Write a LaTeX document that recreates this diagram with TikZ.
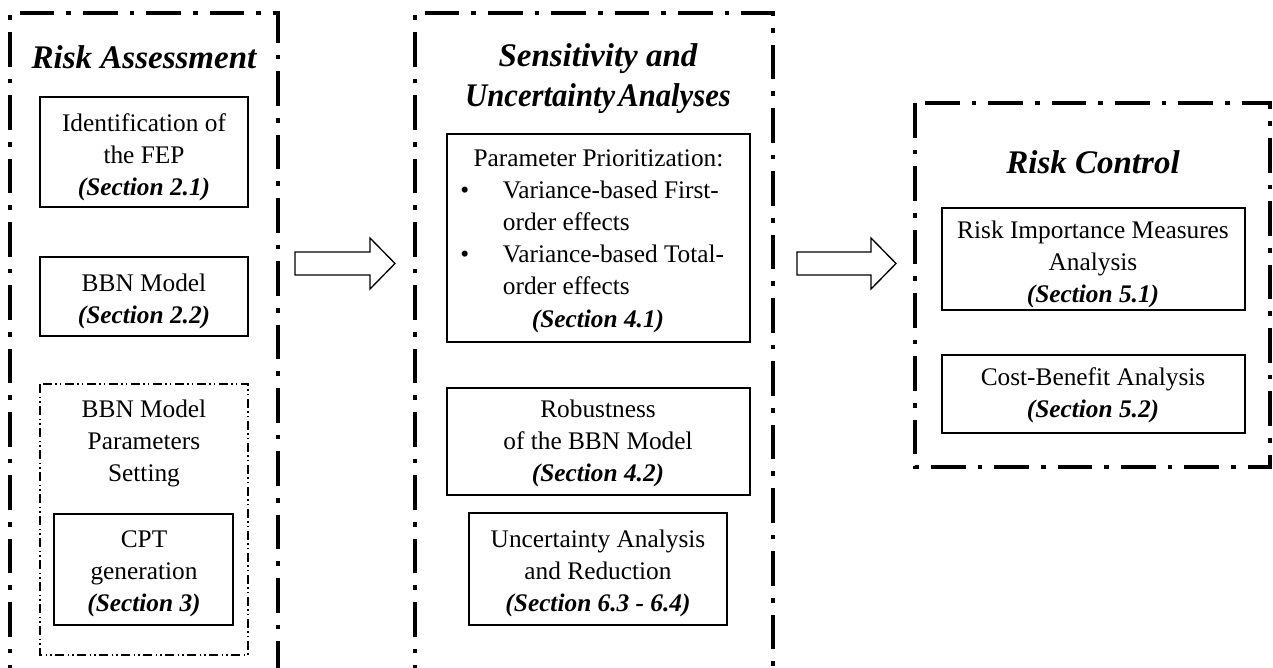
\documentclass[tikz,border=0pt]{standalone}
\usepackage{fontspec}
\setmainfont{Liberation Serif}
\usepackage{tikz}
\usetikzlibrary{calc}
\newcommand{\secnote}[1]{\textbf{\textit{#1}}}
\tikzset{panel/.style={line width=3pt,dash pattern={on 26pt off 9pt on 3.5pt off 9pt}},
    subpanel/.style={line width=0.9pt,dash pattern={on 7pt off 2.5pt on 1pt off 2.5pt on 1pt off 2.5pt}},
    secbox/.style={line width=1.1pt},
    blockarrow/.style={line width=1pt,fill=white},
    body/.style={align=center,inner sep=0.75pt,font=\fontsize{19}{24}\selectfont},
    heading/.style={align=center,inner sep=0.75pt,font=\fontsize{24.75}{30}\selectfont\bfseries\itshape}}

\begin{document}
\begin{tikzpicture}[x=0.75pt,y=0.75pt,yscale=-1,xscale=1]
%set diagram left start at 0, and has height of 667
\fill [white] (0,0) rectangle (1273,667);
\useasboundingbox (0,0) rectangle (1273,667);

%Shape: Panels
\draw [panel] (10,700) -- (10,13) -- (278,13) -- (278,700) ;
\draw [panel] (415,700) -- (415,13) -- (773,13) -- (773,700) ;
\draw [panel] (915,103) rectangle (1270,467) ;

%Shape: Rectangles, left panel
\draw [secbox] (40,97) rectangle (248,207) ;
\draw [secbox] (40,257) rectangle (248,336) ;
\draw [subpanel] (40,384) rectangle (248,655) ;
\draw [secbox] (54,514) rectangle (233,625) ;
%Shape: Rectangles, middle panel
\draw [secbox] (447,134) rectangle (750,342) ;
\draw [secbox] (447,388) rectangle (750,495) ;
\draw [secbox] (469,513) rectangle (727,625) ;
%Shape: Rectangles, right panel
\draw [secbox] (942,208) rectangle (1245,310) ;
\draw [secbox] (942,355) rectangle (1245,433) ;

%Right Arrows
\coordinate (arrA) at (295,263.5);
\coordinate (arrB) at (797,263.5);
\draw [blockarrow] (arrA) -- ++(0,-11.5) -- ++(75,0) -- ++(0,-14) -- ++(25,25.5) -- ++(-25,25.5) -- ++(0,-14) -- ++(-75,0) -- cycle ;
\draw [blockarrow] (arrB) -- ++(0,-11.5) -- ++(74,0) -- ++(0,-14) -- ++(25,25.5) -- ++(-25,25.5) -- ++(0,-14) -- ++(-74,0) -- cycle ;

% Text Node
\draw (144,57) node (riskAss) [heading] {Risk Assessment};
% Text Node
\draw (598,79) node (sensUnc) [heading] {Sensitivity and\\\scalebox{0.93}[1]{Uncertainty\hspace{0.1em}Analyses}};
% Text Node
\draw (1093,162) node (riskCtl) [heading] {Risk Control};
% Text Node
\draw (144,157) node (fep) [body] {Identification of\\the FEP\\\secnote{(Section 2.1)}};
% Text Node
\draw (144,301) node (bbn) [body] {BBN Model\\\secnote{(Section 2.2)}};
% Text Node
\draw (144,443) node (bbnPar) [body] {BBN Model\\Parameters\\Setting};
% Text Node
\draw (144,574) node (cpt) [body] {CPT\\generation\\\secnote{(Section 3)}};
% Text Node
\draw (455,148) node (prio) [body,align=left,anchor=north west] {\hspace*{13pt}Parameter Prioritization:\\
\makebox[35pt][l]{\hspace{3pt}•}Variance-based First-\\
\hspace*{35pt}order effects\\
\makebox[35pt][l]{\hspace{3pt}•}Variance-based Total-\\
\hspace*{35pt}order effects};
% Text Node
\draw (598,321) node (prioSec) [body] {\secnote{(Section 4.1)}};
% Text Node
\draw (598,443) node (robust) [body] {Robustness\\of the BBN Model\\\secnote{(Section 4.2)}};
% Text Node
\draw (598,573) node (uncRed) [body] {Uncertainty Analysis\\and Reduction\\\secnote{(Section 6.3 - 6.4)}};
% Text Node
\draw (1093,264) node (rim) [body] {Risk Importance Measures\\Analysis\\\secnote{(Section 5.1)}};
% Text Node
\draw (1093,395) node (cba) [body] {Cost-Benefit Analysis\\\secnote{(Section 5.2)}};

\end{tikzpicture}
\end{document}
